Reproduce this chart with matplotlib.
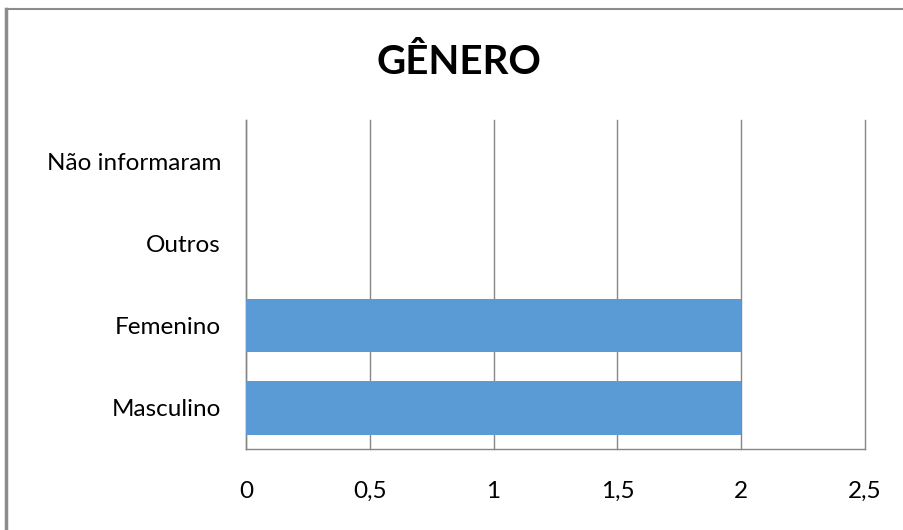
import matplotlib.pyplot as plt
from matplotlib.lines import Line2D
from matplotlib.ticker import FuncFormatter

# dados do grafico
categorias = ["Masculino", "Femenino", "Outros", "Não informaram"]
valores = [2, 2, 0, 0]
ticks_x = [0, 0.5, 1, 1.5, 2, 2.5]

cor_barra = '#5B9BD5'
cor_grade = '#868686'

plt.rcParams['font.family'] = ['Lato', 'DejaVu Sans']

fig = plt.figure(figsize=(9.04, 5.30), dpi=100)
ax = fig.add_axes([246/904, 81/530, 619/904, 329/530])

ax.barh(categorias, valores, height=0.65, color=cor_barra, zorder=3)

ax.set_xlim(0, 2.5)
ax.set_ylim(-0.5, len(categorias) - 0.5)
ax.set_xticks(ticks_x)
ax.xaxis.set_major_formatter(FuncFormatter(lambda v, p: ('%g' % v).replace('.', ',')))
ax.grid(axis='x', color=cor_grade, linewidth=1, zorder=0)
for linha in ax.get_xgridlines():
    linha.set_clip_on(False)
ax.tick_params(axis='both', length=0, labelsize=17.5)
ax.tick_params(axis='x', pad=23)
ax.tick_params(axis='y', pad=18)

for lado in ['top', 'right']:
    ax.spines[lado].set_visible(False)
for lado in ['left', 'bottom']:
    ax.spines[lado].set_color(cor_grade)
    ax.spines[lado].set_linewidth(1)

fig.text(459/904, 1 - 62/530, 'GÊNERO', fontsize=29, fontweight='bold',
         ha='center', va='center')

# borda da area do grafico
fig.add_artist(Line2D([6/904, 6/904], [0, 1 - 9/530], color='#8c8c8c', linewidth=2.5))
fig.add_artist(Line2D([6/904, 1], [1 - 9/530, 1 - 9/530], color='#8c8c8c', linewidth=1.5))

plt.savefig('out.png', dpi=100)
